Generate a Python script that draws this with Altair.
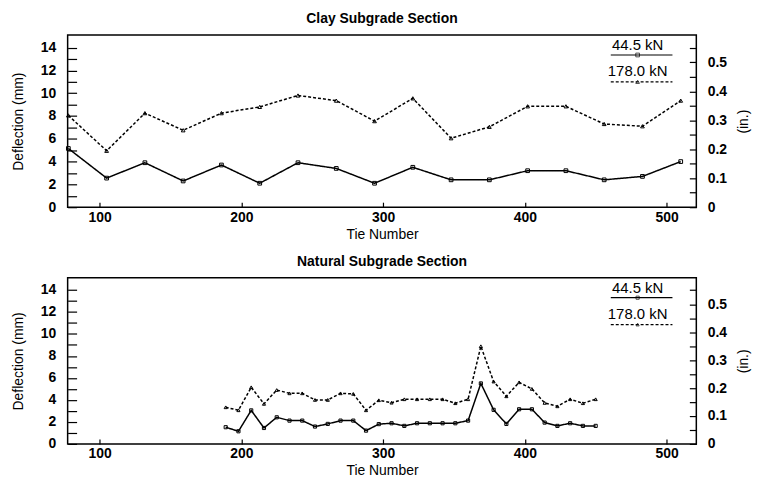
import altair as alt
import pandas as pd

# ---------------- data ----------------
series_labels = ["44.5 kN", "178.0 kN"]

clay_ties = [78, 105, 132, 159, 186, 213, 240, 267, 294, 321, 348, 375, 402, 429, 456, 483, 510]
clay_44 = [5.15, 2.55, 3.9, 2.3, 3.7, 2.1, 3.9, 3.4, 2.1, 3.5, 2.4, 2.4, 3.2, 3.2, 2.4, 2.7, 4.0]
clay_178 = [8.05, 4.95, 8.25, 6.75, 8.25, 8.8, 9.8, 9.35, 7.55, 9.55, 6.05, 7.05, 8.85, 8.85, 7.3, 7.1, 9.35]

nat_ties = [189, 198, 207, 216, 225, 234, 243, 252, 261, 270, 279, 288, 297, 306, 315,
            324, 333, 342, 351, 360, 369, 378, 387, 396, 405, 414, 423, 432, 441, 450]
nat_44 = [1.52, 1.15, 3.05, 1.45, 2.42, 2.12, 2.12, 1.58, 1.82, 2.12, 2.12, 1.21, 1.8, 1.88, 1.64,
          1.88, 1.88, 1.88, 1.88, 2.12, 5.5, 3.1, 1.82, 3.15, 3.15, 1.94, 1.64, 1.88, 1.64, 1.64]
nat_178 = [3.33, 3.06, 5.15, 3.64, 4.9, 4.6, 4.6, 4.0, 4.0, 4.6, 4.55, 3.06, 3.97, 3.75, 4.06,
           4.06, 4.06, 4.06, 3.7, 4.06, 8.88, 5.67, 4.33, 5.6, 5.0, 3.73, 3.42, 4.06, 3.7, 4.06]

x_ticks = [100, 200, 300, 400, 500]
mm_ticks = [0, 1, 2, 3, 4, 5, 6, 7, 8, 9, 10, 11, 12, 13, 14]
in_ticks = [0, 0.05, 0.1, 0.15, 0.2, 0.25, 0.3, 0.35, 0.4, 0.45, 0.5, 0.55]

# ---------------- style ----------------
FONT = "Liberation Sans"
W = 632
X_DOMAIN = [77.5, 521]
MM_MAX = 15.1

dash_range = [[1, 0], [3, 2]]
shape_range = ["square", "triangle-up"]

X_AXIS = alt.Axis(values=x_ticks, title="Tie Number", offset=-5, tickSize=5,
                  domain=False, grid=False, labelPadding=3, format="d",
                  labelFont=FONT, labelFontSize=14, labelFontWeight="bold",
                  titleFont=FONT, titleFontSize=14, titleFontWeight="normal",
                  titlePadding=3, labelOverlap=False, tickColor="black",
                  labelColor="black", titleColor="black", tickWidth=1.2)
Y_AXIS = alt.Axis(values=mm_ticks, title="Deflection (mm)", offset=-9, tickSize=9,
                  domain=False, grid=False, labelPadding=12, labelOverlap=False,
                  labelExpr="datum.value % 2 == 0 ? datum.label : ''",
                  labelFont=FONT, labelFontSize=14, labelFontWeight="bold",
                  titleFont=FONT, titleFontSize=14, titleFontWeight="normal",
                  titlePadding=15, tickColor="black", labelColor="black",
                  titleColor="black", tickWidth=1.2)
R_AXIS = alt.Axis(orient="right", values=in_ticks, title="(in.)", offset=-7, tickSize=7,
                  domain=False, grid=False, labelPadding=11, labelOverlap=False,
                  labelExpr="round(datum.value * 20) % 2 == 0 ? (datum.value == 0 ? '0' : format(datum.value, '.1f')) : ''",
                  labelFont=FONT, labelFontSize=14, labelFontWeight="bold",
                  titleFont=FONT, titleFontSize=14, titleFontWeight="normal",
                  titleAngle=-90, titlePadding=24, tickColor="black",
                  labelColor="black", titleColor="black", tickWidth=1.2)


def panel(title, ties, s44, s178, H, msize):
    rows = []
    for t, a, b in zip(ties, s44, s178):
        rows.append({"tie": t, "series": series_labels[0], "mm": a})
        rows.append({"tie": t, "series": series_labels[1], "mm": b})
    df = pd.DataFrame(rows)

    x_scale = alt.Scale(domain=X_DOMAIN, nice=False, zero=False)
    y_scale = alt.Scale(domain=[0, MM_MAX], nice=False)

    base = alt.Chart(df)
    lines = base.mark_line(color="black", strokeWidth=1.5).encode(
        x=alt.X("tie:Q", scale=x_scale, axis=X_AXIS),
        y=alt.Y("mm:Q", scale=y_scale, axis=Y_AXIS),
        strokeDash=alt.StrokeDash("series:N", scale=alt.Scale(domain=series_labels, range=dash_range), legend=None),
        detail="series:N",
    )
    pts = base.mark_point(color="black", filled=False, strokeWidth=1, size=msize, opacity=1).encode(
        x=alt.X("tie:Q", scale=x_scale, axis=X_AXIS),
        y=alt.Y("mm:Q", scale=y_scale, axis=Y_AXIS),
        shape=alt.Shape("series:N", scale=alt.Scale(domain=series_labels, range=shape_range), legend=None),
    )

    # manual legend (text above a line sample)
    leg_df = pd.DataFrame({"label": series_labels})
    legend_layers = []
    for i, lab in enumerate(series_labels):
        ld = alt.Chart(leg_df).transform_filter(alt.datum.label == lab)
        legend_layers.append(
            ld.mark_text(font=FONT, fontSize=15, color="black", align="center", baseline="middle").encode(
                text="label:N", x=alt.value(W - 59), y=alt.value(10 + 26 * i)))
        legend_layers.append(
            ld.mark_rule(color="black", strokeWidth=1.2, strokeDash=dash_range[i]).encode(
                x=alt.value(W - 86), x2=alt.value(W - 24), y=alt.value(20 + 27 * i)))
        legend_layers.append(
            ld.mark_point(color="black", filled=False, strokeWidth=1, size=msize, shape=shape_range[i]).encode(
                x=alt.value(W - 59), y=alt.value(20 + 27 * i)))

    left = alt.layer(lines, pts, *legend_layers)

    right = base.transform_filter(alt.datum.series == series_labels[0]).transform_calculate(
        inch="datum.mm / 25.4").mark_point(opacity=0).encode(
        x=alt.X("tie:Q", scale=x_scale, axis=X_AXIS),
        y=alt.Y("inch:Q", scale=alt.Scale(domain=[0, MM_MAX / 25.4], nice=False), axis=R_AXIS),
    )

    return alt.layer(left, right).resolve_scale(y="independent").properties(
        width=W, height=H,
        title=alt.TitleParams(title, font=FONT, fontSize=14, fontWeight="bold", anchor="middle", offset=9),
    )


top = panel("Clay Subgrade Section", clay_ties, clay_44, clay_178, 173, 14)
bottom = panel("Natural Subgrade Section", nat_ties, nat_44, nat_178, 167, 10)

chart = alt.vconcat(top, bottom, spacing=12).properties(
    padding={"left": 10, "top": 10, "right": 5, "bottom": 2},
    background="white",
).configure_view(stroke="black", strokeWidth=1.5)

chart.save("out.html", embed_options={"renderer": "svg", "actions": False})
